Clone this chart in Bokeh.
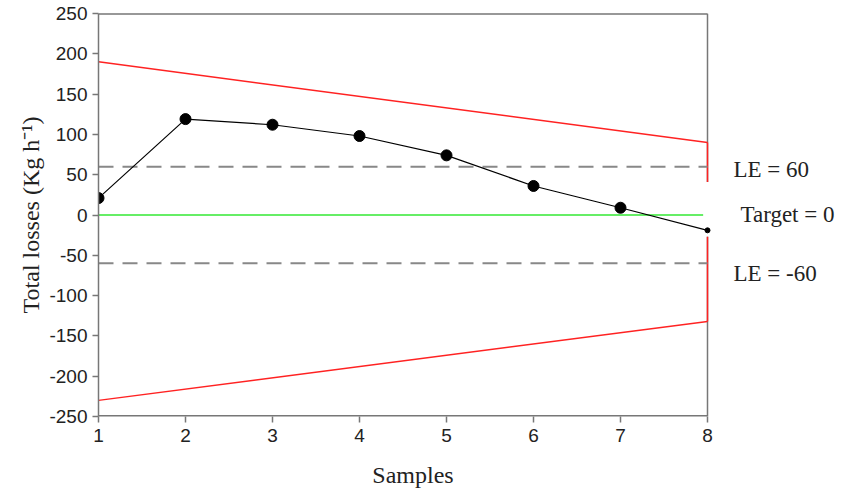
from bokeh.plotting import figure
from bokeh.models import Range1d, FixedTicker
from bokeh.layouts import row
from bokeh.core.properties import value
from bokeh.embed import file_html
from bokeh.resources import INLINE

samples = [1, 2, 3, 4, 5, 6, 7, 8]
losses = [21, 119, 112, 98, 74, 36, 9, -19]
upper_x = [1, 8]
upper_y = [190, 90]
lower_x = [1, 8]
lower_y = [-230, -132]
le_pos = 60
le_neg = -60
target = 0
upper_tail = [90, 41]
lower_tail = [-27, -132]
frame_gap = [41, -27]
y_ticks = list(range(-250, 251, 50))
label_texts = ["LE = 60", "Target = 0", "LE = -60"]
label_y = [56, 1, -72]

X0, X1 = 1, 8
Y0, Y1 = -250, 250
px_per_x = 609 / 7.0
main_w = 727
side_w = 854 - main_w
x_end = X0 + (main_w - 98) / px_per_x

p = figure(width=main_w, height=490, output_backend="svg", toolbar_location=None,
           x_range=Range1d(X0, x_end), y_range=Range1d(Y0, Y1),
           min_border_left=98, min_border_right=0, min_border_top=13,
           min_border_bottom=74)
p.outline_line_color = None
p.grid.visible = False

for ax in (p.xaxis[0], p.yaxis[0]):
    ax.major_tick_line_color = "#777777"
    ax.major_tick_line_width = 1.5
    ax.major_tick_out = 6
    ax.major_tick_in = 0
    ax.minor_tick_line_color = None
    ax.major_label_text_font = "Liberation Sans"
    ax.major_label_text_font_size = "19px"
    ax.major_label_text_color = "#222222"
    ax.axis_label_text_font = "Liberation Serif"
    ax.axis_label_text_font_style = "normal"
    ax.axis_label_text_font_size = "24px"
    ax.axis_label_text_color = "#222222"

p.xaxis.axis_line_color = None
p.yaxis.axis_line_color = "#777777"
p.yaxis.axis_line_width = 1.5
p.xaxis.ticker = FixedTicker(ticks=samples)
p.yaxis.ticker = FixedTicker(ticks=y_ticks)
p.yaxis.major_label_overrides = {v: str(v) for v in y_ticks}
p.xaxis.major_label_overrides = {v: str(v) for v in samples}
p.xaxis.axis_label = "Samples"
p.yaxis.axis_label = "Total losses (Kg h\u207b\u00b9)"
p.xaxis.major_label_standoff = 6
p.xaxis.axis_label_standoff = 17
p.yaxis.major_label_standoff = 5
p.yaxis.axis_label_standoff = 2

# bottom axis line and top border
p.segment(x0=[X0], y0=[Y0], x1=[X1], y1=[Y0], line_color="#777777", line_width=3)
p.segment(x0=[X0], y0=[Y1], x1=[X1], y1=[Y1], line_color="#333333", line_width=2)

# right frame border with gap
p.segment(x0=[X1, X1], y0=[Y1, frame_gap[1]], x1=[X1, X1], y1=[frame_gap[0], Y0],
          line_color="#777777", line_width=1.5)

# control limits
p.line(upper_x, upper_y, line_color="#ff2222", line_width=1.5)
p.line(lower_x, lower_y, line_color="#ff2222", line_width=1.5)
p.segment(x0=[X1, X1], y0=[upper_tail[0], lower_tail[0]], x1=[X1, X1],
          y1=[upper_tail[1], lower_tail[1]], line_color="#ff2222", line_width=1.5)

# LE lines
p.line([X0, X1], [le_pos, le_pos], line_color="#888888", line_width=2, line_dash="15 9")
p.line([X0, X1], [le_neg, le_neg], line_color="#888888", line_width=2, line_dash="15 9")

# target
p.line([X0, 7.95], [target, target], line_color="#66ee66", line_width=2)

# data
p.line(samples, losses, line_color="black", line_width=1.2)
p.scatter(samples[:-1], losses[:-1], size=11, color="black")
p.scatter(samples[-1:], losses[-1:], size=5, color="black")

# side panel with the limit labels
s = figure(width=side_w, height=490, output_backend="svg", toolbar_location=None,
           x_range=Range1d(0, side_w), y_range=Range1d(Y0, Y1),
           min_border_left=0, min_border_right=0, min_border_top=13,
           min_border_bottom=74)
s.axis.visible = False
s.grid.visible = False
s.outline_line_color = None
s.text(x=[6, 13, 6], y=label_y, text=label_texts, text_font=value("Liberation Serif"),
       text_font_size="23px", text_color="#222222", text_baseline="middle")

open("out.html", "w").write(file_html(row(p, s), INLINE))
